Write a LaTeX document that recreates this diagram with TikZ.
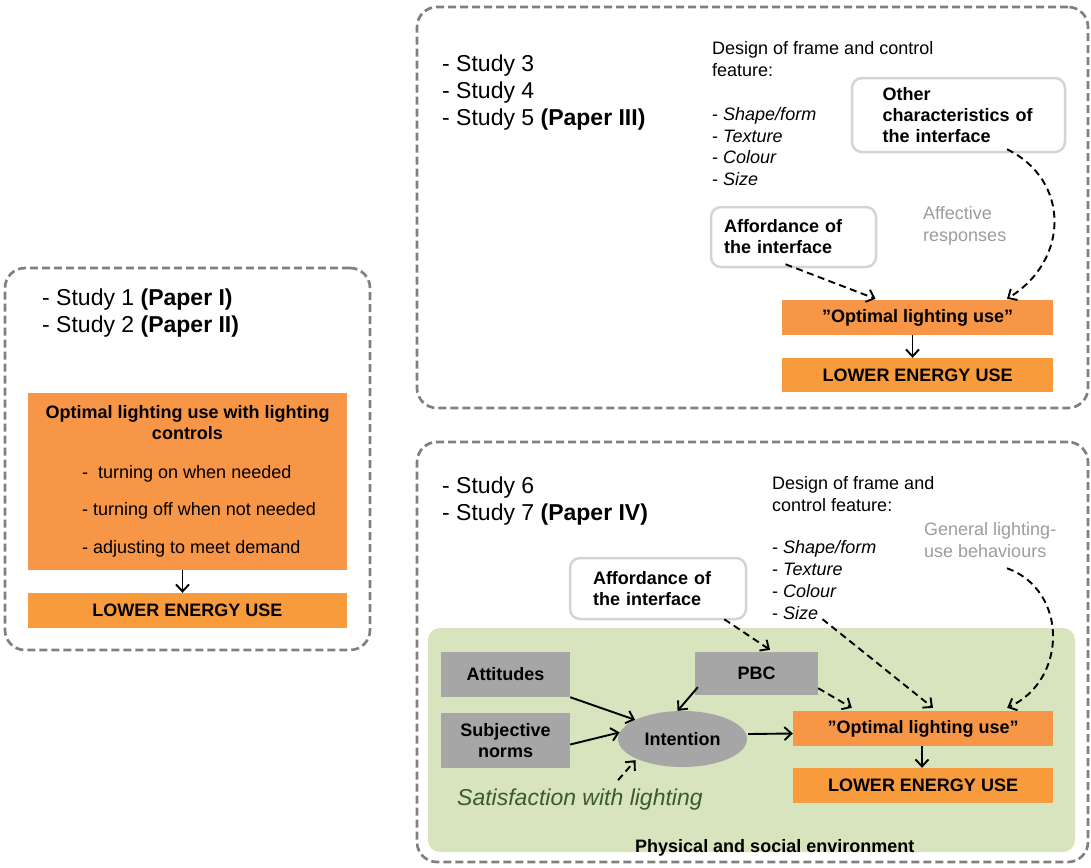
\documentclass[tikz,border=0pt]{standalone}
\usepackage{fontspec}
\setmainfont{Liberation Sans}
\usetikzlibrary{arrows.meta,calc,shapes.geometric}
\definecolor{orA}{HTML}{F79646}
\definecolor{orB}{HTML}{F89B3C}
\definecolor{grn}{HTML}{D7E4BD}
\definecolor{gbox}{HTML}{A6A6A6}
\definecolor{dashc}{HTML}{808080}
\definecolor{rbord}{HTML}{D4D4D4}
\definecolor{gtxt}{HTML}{9C9C9C}
\definecolor{satc}{HTML}{3D5A2A}
\tikzset{
 grp/.style={draw=dashc,line width=2.7pt,dash pattern=on 8pt off 4pt,rounded corners=20pt,inner sep=0pt},
 obox/.style={fill=orA,font=\bfseries\fontsize{18}{21}\selectfont,inner sep=0pt},
 lbox/.style={fill=orB,font=\bfseries\fontsize{18}{21}\selectfont,inner sep=0pt},
 gbx/.style={fill=gbox,font=\bfseries\fontsize{18}{21}\selectfont,inner sep=0pt,align=center},
 rbox/.style={draw=rbord,line width=2.5pt,rounded corners=10pt,fill=white,font=\bfseries\fontsize{18}{21}\selectfont,align=left,inner sep=0pt},
 stud/.style={font=\fontsize{23}{27}\selectfont,align=left,inner sep=0pt,anchor=west},
 txt/.style={font=\fontsize{18}{22}\selectfont,align=left,inner sep=0pt},
 arr/.style={-{Straight Barb[length=7pt,width=13pt]},line width=1.9pt},
 darr/.style={arr,dash pattern=on 7pt off 4.5pt},
}
\begin{document}
\begin{tikzpicture}[x=1pt,y=-1pt]
\useasboundingbox (0,0) rectangle (1091,867);

% ---------- left group ----------
\node[grp,minimum width=365,minimum height=382] (g1) at (187.5,459) {};
\node[stud] (s12) at (42,313) {- Study 1 \textbf{(Paper I)}\\- Study 2 \textbf{(Paper II)}};
\node[obox,minimum width=319,minimum height=177] (opt1) at (187.5,481.5) {};
\node[font=\bfseries\fontsize{18}{21}\selectfont,align=center,inner sep=0pt] (opt1t) at (187.5,422.5) {Optimal lighting use with lighting\\controls};
\node[txt,anchor=base west] (i1) at (82,478.5) {-\ \ turning on when needed};
\node[txt,anchor=base west] (i2) at (82,515.5) {- turning off when not needed};
\node[txt,anchor=base west] (i3) at (82,553.5) {- adjusting to meet demand};
\node[lbox,minimum width=319,minimum height=35] (low1) at (187.5,610.5) {LOWER ENERGY USE};
\draw[arr] ($(opt1.south)+(-5,0)$) -- ($(low1.north)+(-5,0)$);

% ---------- top right group ----------
\node[grp,minimum width=671,minimum height=401] (g2) at (752.5,207.5) {};
\node[stud] (s345) at (442,92.7) {- Study 3\\- Study 4\\- Study 5 \textbf{(Paper III)}};
\node[txt,anchor=west] (des1) at (712,59) {Design of frame and control\\feature:};
\node[txt,anchor=base west] (sh1) at (712,120.5) {- \textit{Shape/form}};
\node[txt,anchor=base west] (tx1) at (712,142.5) {- \textit{Texture}};
\node[txt,anchor=base west] (co1) at (712,163.5) {- \textit{Colour}};
\node[txt,anchor=base west] (si1) at (712,185.5) {- \textit{Size}};
\node[rbox,text width=152pt,minimum width=213,minimum height=74] (oth) at (958.5,115) {Other\\characteristics of\\the interface};
\node[rbox,text width=139pt,minimum width=165,minimum height=60] (aff1) at (793.5,237) {Affordance of\\the interface};
\node[txt,text=gtxt,anchor=west] (aresp) at (923,226) {Affective\\responses};
\node[obox,minimum width=271,minimum height=35] (opt2) at (917.5,317.5) {”Optimal lighting use”};
\node[lbox,minimum width=271,minimum height=34] (low2) at (917.5,375) {LOWER ENERGY USE};
\draw[darr] ($(aff1.south)+(-8,-4)$) -- ($(opt2.north)+(-42,-1)$);
\draw[darr] ($(oth.south)+(48.5,-4)$) .. controls (1070,180) and (1070,260) .. ($(opt2.north)+(89.5,-1)$);
\draw[arr] ($(opt2.south)+(-5,0)$) -- ($(low2.north)+(-5,0)$);

% ---------- bottom right group ----------
\node[grp,minimum width=671,minimum height=420] (g3) at (752.5,652) {};
\node[fill=grn,rounded corners=12pt,minimum width=647,minimum height=224,inner sep=0pt] (env) at (751.5,740) {};
\node[stud] (s67) at (442,501.2) {- Study 6\\- Study 7 \textbf{(Paper IV)}};
\node[txt,anchor=west] (des2) at (772,494) {Design of frame and\\control feature:};
\node[txt,anchor=base west] (sh2) at (772,553.5) {- \textit{Shape/form}};
\node[txt,anchor=base west] (tx2) at (772,575.5) {- \textit{Texture}};
\node[txt,anchor=base west] (co2) at (772,597.5) {- \textit{Colour}};
\node[txt,anchor=base west] (si2) at (772,619.5) {- \textit{Size}};
\node[txt,text=gtxt,anchor=west] (gen) at (924,540.5) {General lighting-\\use behaviours};
\node[rbox,text width=130pt,minimum width=176,minimum height=61] (aff2) at (658,588.5) {Affordance of\\the interface};
\node[gbx,minimum width=129,minimum height=45] (att) at (505.5,674.5) {Attitudes};
\node[gbx,minimum width=129,minimum height=55] (sn) at (505.5,740.5) {Subjective\\norms};
\node[gbx,minimum width=123,minimum height=43] (pbc) at (756.5,673.5) {PBC};
\node[ellipse,fill=gbox,minimum width=129,minimum height=56,inner sep=0pt,font=\bfseries\fontsize{18}{21}\selectfont] (int) at (682.5,739) {Intention};
\node[obox,minimum width=260,minimum height=35] (opt3) at (923,728.5) {”Optimal lighting use”};
\node[lbox,minimum width=260,minimum height=35] (low3) at (923,785.5) {LOWER ENERGY USE};
\node[font=\itshape\fontsize{23}{23}\selectfont,text=satc,anchor=base west,inner sep=0pt] (sat) at (457,805) {Satisfaction with lighting};
\node[font=\bfseries\fontsize{18}{21}\selectfont,anchor=base west,inner sep=0pt] (phys) at (635,852) {Physical and social environment};

\draw[arr] (att.south east) -- (int.158);
\draw[arr] ($(sn.east)+(0,4)$) -- (int.174);
\draw[arr] ($(pbc.south west)+(3,-8)$) -- (int.100);
\draw[arr] ($(int.east)+(1,-5)$) -- ($(opt3.west)+(0,5)$);
\draw[arr] ($(opt3.south)+(-1,0)$) -- ($(low3.north)+(-1,0)$);
\draw[darr] ($(aff2.south east)+(-23,-1)$) -- ($(pbc.north)+(13.5,-2)$);
\draw[darr] ($(pbc.south east)+(0,-7)$) -- ($(opt3.north west)+(59,-3)$);
\draw[darr] ($(si2.east)+(4,6)$) -- ($(opt3.north)+(10,-3)$);
\draw[darr] ($(gen.south west)+(83,10)$) .. controls (1068,590) and (1068,680) .. ($(opt3.north east)+(-46,-3)$);
\draw[darr] ($(sat.north west)+(161,-8)$) -- ($(int.south)+(-47,-7)$);
\end{tikzpicture}
\end{document}
